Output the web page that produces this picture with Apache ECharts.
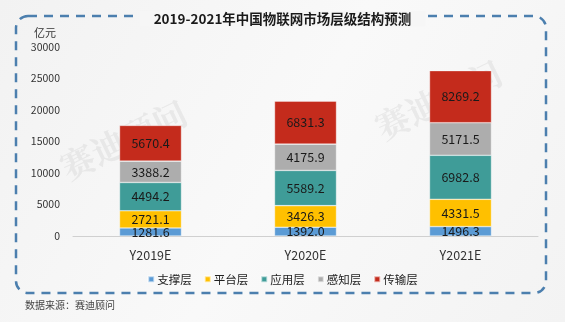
<!DOCTYPE html>
<html>
<head>
<meta charset="utf-8">
<script src="https://cdn.jsdelivr.net/npm/echarts@6/dist/echarts.min.js"></script>
<style>
  html, body { margin: 0; padding: 0; background: #fff; }
  #chart { width: 565px; height: 322px; }
</style>
</head>
<body>
<div id="chart"></div>
<script>
// China IoT market by layer, 2019-2021 forecast (unit: 100 million yuan)
const categories = ['Y2019E', 'Y2020E', 'Y2021E'];
const supportLayer = [1281.6, 1392.0, 1496.3];
const platformLayer = [2721.1, 3426.3, 4331.5];
const applicationLayer = [4494.2, 5589.2, 6982.8];
const perceptionLayer = [3388.2, 4175.9, 5171.5];
const transportLayer = [5670.4, 6831.3, 8269.2];
const yTicks = [0, 5000, 10000, 15000, 20000, 25000, 30000];

const seriesDefs = [
  { name: '支撑层', data: supportLayer, color: '#5B9BD5' },
  { name: '平台层', data: platformLayer, color: '#FFC000' },
  { name: '应用层', data: applicationLayer, color: '#3F9C98' },
  { name: '感知层', data: perceptionLayer, color: '#ADADAD' },
  { name: '传输层', data: transportLayer, color: '#C42B1C' }
];

const chart = echarts.init(document.getElementById('chart'));
const font = '"Noto Sans CJK SC", "Noto Sans", sans-serif';

chart.setOption({
  backgroundColor: {
    type: 'linear', x: 0, y: 0, x2: 1, y2: 1,
    colorStops: [{ offset: 0, color: '#f2f2f2' }, { offset: 0.5, color: '#f9f9f9' }, { offset: 1, color: '#f3f3f3' }]
  },
  textStyle: { fontFamily: font },
  animation: false,
  grid: { left: 73, right: 27, top: 47, bottom: 86 },
  legend: {
    bottom: 32,
    left: 'center',
    itemWidth: 6,
    itemHeight: 6,
    itemGap: 12,
    icon: 'rect',
    textStyle: { fontSize: 11.5, color: '#222', padding: [0, 0, 0, -2] },
    data: seriesDefs.map(s => s.name)
  },
  xAxis: {
    type: 'category',
    data: categories,
    axisLine: { lineStyle: { color: '#d0d0d0' } },
    axisTick: { show: false },
    axisLabel: { fontSize: 12.5, color: '#333', margin: 13 }
  },
  yAxis: {
    type: 'value',
    min: yTicks[0],
    max: yTicks[yTicks.length - 1],
    interval: 5000,
    name: '亿元',
    nameLocation: 'end',
    nameGap: 9,
    nameTextStyle: { fontSize: 11, color: '#333', align: 'right', padding: [0, 17, 0, 0] },
    axisLine: { show: false },
    axisTick: { show: false },
    splitLine: { show: false },
    axisLabel: { fontSize: 10.5, color: '#333', margin: 13, formatter: v => String(v) }
  },
  series: seriesDefs.map(s => ({
    name: s.name,
    type: 'bar',
    stack: 'total',
    barWidth: 62,
    data: s.data,
    itemStyle: { color: s.color, borderColor: 'rgba(255,255,255,0.6)', borderWidth: 0.6 },
    label: {
      show: true,
      position: 'inside',
      fontSize: 12.5,
      color: '#1a1a1a',
      formatter: p => p.value.toFixed(1)
    }
  })),
  graphic: [
    // faint brand watermark
    {
      type: 'text', left: 55, top: 95, rotation: 0.45, z: 0, silent: true,
      style: { text: '赛迪顾问', font: 'bold 34px "Noto Serif CJK SC", serif', fill: 'rgba(190,190,190,0.25)' }
    },
    {
      type: 'text', left: 370, top: 55, rotation: 0.45, z: 0, silent: true,
      style: { text: '赛迪顾问', font: 'bold 34px "Noto Serif CJK SC", serif', fill: 'rgba(190,190,190,0.25)' }
    },
    // dashed frame
    {
      type: 'rect', z: 1, silent: true,
      shape: { x: 16, y: 16, width: 530, height: 277, r: 12 },
      style: { fill: 'none', stroke: '#4C7FAE', lineWidth: 2.5, lineDash: [9, 7] }
    },
    // title sitting over the frame
    {
      type: 'text', left: 'center', top: 11, z: 5, silent: true,
      style: {
        text: '2019-2021年中国物联网市场层级结构预测',
        font: 'bold 13.5px "Noto Sans CJK SC", sans-serif',
        fill: '#1a1a1a',
        backgroundColor: '#f6f6f6',
        padding: [1, 14, 1, 14]
      }
    },
    {
      type: 'text', left: 25, top: 300, z: 5, silent: true,
      style: { text: '数据来源：赛迪顾问', font: '10px "Noto Sans CJK SC", sans-serif', fill: '#444' }
    }
  ]
});
</script>
</body>
</html>
